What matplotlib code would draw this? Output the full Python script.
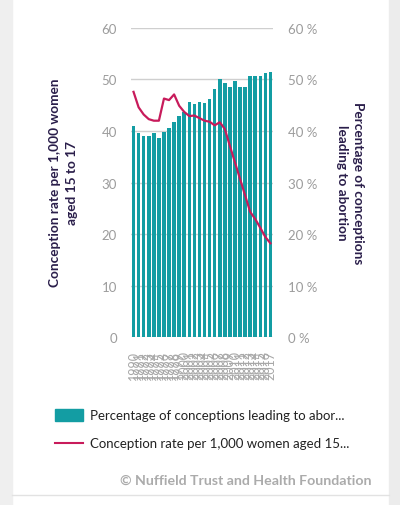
import matplotlib.pyplot as plt
from matplotlib.patches import Rectangle
from matplotlib.lines import Line2D

plt.rcParams['font.family'] = ['Lato', 'DejaVu Sans']

# Teenage conceptions, England, 1990 to 2017
years = list(range(1990, 2018))

# percentage of conceptions leading to abortion (bars, right axis)
abortion_pct = [41.0, 39.7, 39.0, 39.0, 39.7, 38.6, 39.9, 40.5, 41.8, 42.9,
                43.7, 45.6, 45.2, 45.6, 45.4, 46.2, 48.2, 50.0, 49.3, 48.5,
                49.7, 48.5, 48.5, 50.6, 50.6, 50.6, 51.2, 51.5]

# conception rate per 1,000 women aged 15 to 17 (line, left axis)
conception_rate = [47.6, 44.6, 43.2, 42.3, 42.0, 42.0, 46.3, 46.0, 47.1, 44.9,
                   43.7, 42.9, 43.0, 42.5, 42.0, 41.8, 41.1, 41.7, 40.4, 37.1,
                   33.9, 30.7, 27.5, 24.3, 22.9, 21.2, 19.4, 18.2]

left_ticks = [0, 10, 20, 30, 40, 50, 60]
right_tick_labels = ['%d %%' % t for t in left_ticks]

teal = '#139da3'
crimson = '#c81b5b'
navy = '#2a1e4a'
tick_grey = '#9c9c9c'

fig = plt.figure(figsize=(4, 5.06), dpi=100)

# page frame bits
fig.patches.append(Rectangle((0, 0), 12 / 400, 1, transform=fig.transFigure,
                             color='#efefef', zorder=0))
fig.patches.append(Rectangle((389 / 400, 0), 11 / 400, 1, transform=fig.transFigure,
                             color='#ececec', zorder=0))
fig.lines.append(Line2D([12 / 400, 389 / 400], [1 - 496 / 506] * 2, transform=fig.transFigure,
                        color='#e2e2e2', lw=1))

ax = fig.add_axes([0.3275, 0.332, 0.355, 0.6107])
ax2 = ax.twinx()
ax.set_zorder(ax2.get_zorder() + 1)
ax.patch.set_visible(False)

x = list(range(len(years)))
ax2.bar(x, abortion_pct, width=0.7, color=teal, zorder=2)
ax2.set_axisbelow(True)
ax2.yaxis.grid(True, color='#cfcfcf', lw=1)

ax.plot(x, conception_rate, color=crimson, lw=1.6, zorder=3)

for a in (ax, ax2):
    a.set_ylim(0, 60)
    a.set_xlim(-0.5, len(years) - 0.5)
    a.set_yticks(left_ticks)
    for s in a.spines.values():
        s.set_visible(False)
    a.tick_params(length=0, labelcolor=tick_grey, labelsize=9.5)

ax.tick_params(axis='y', pad=10)
ax2.tick_params(axis='y', pad=11)
ax2.set_yticklabels(right_tick_labels)

ax.set_xticks(x)
ax.set_xticklabels([str(y) for y in years], rotation=90, fontsize=9, color='#a8a8a8')
ax.tick_params(axis='x', pad=9)

fig.text(64 / 400, 1 - 183 / 506, 'Conception rate per 1,000 women\naged 15 to 17',
         rotation=90, ha='center', va='center', fontsize=9.8, fontweight='bold',
         color=navy, linespacing=1.5)
fig.text(350 / 400, 1 - 183 / 506, 'Percentage of conceptions\nleading to abortion',
         rotation=270, ha='center', va='center', fontsize=9.8, fontweight='bold',
         color=navy, linespacing=1.5)

# legend
fig.patches.append(Rectangle((55 / 400, 1 - 422 / 506), 28 / 400, 12 / 506,
                             transform=fig.transFigure, color=teal))
fig.text(90 / 400, 1 - 416 / 506, 'Percentage of conceptions leading to abor...',
         ha='left', va='center', fontsize=9.5, color='#222222')
fig.lines.append(Line2D([55 / 400, 83 / 400], [1 - 444 / 506] * 2, transform=fig.transFigure,
                        color=crimson, lw=1.5))
fig.text(90 / 400, 1 - 444 / 506, 'Conception rate per 1,000 women aged 15...',
         ha='left', va='center', fontsize=9.5, color='#222222')

fig.text(372 / 400, 1 - 481 / 506, '\u00a9 Nuffield Trust and Health Foundation',
         ha='right', va='center', fontsize=10.2, fontweight='bold', color='#ababab')

fig.savefig('out.png', dpi=100)
